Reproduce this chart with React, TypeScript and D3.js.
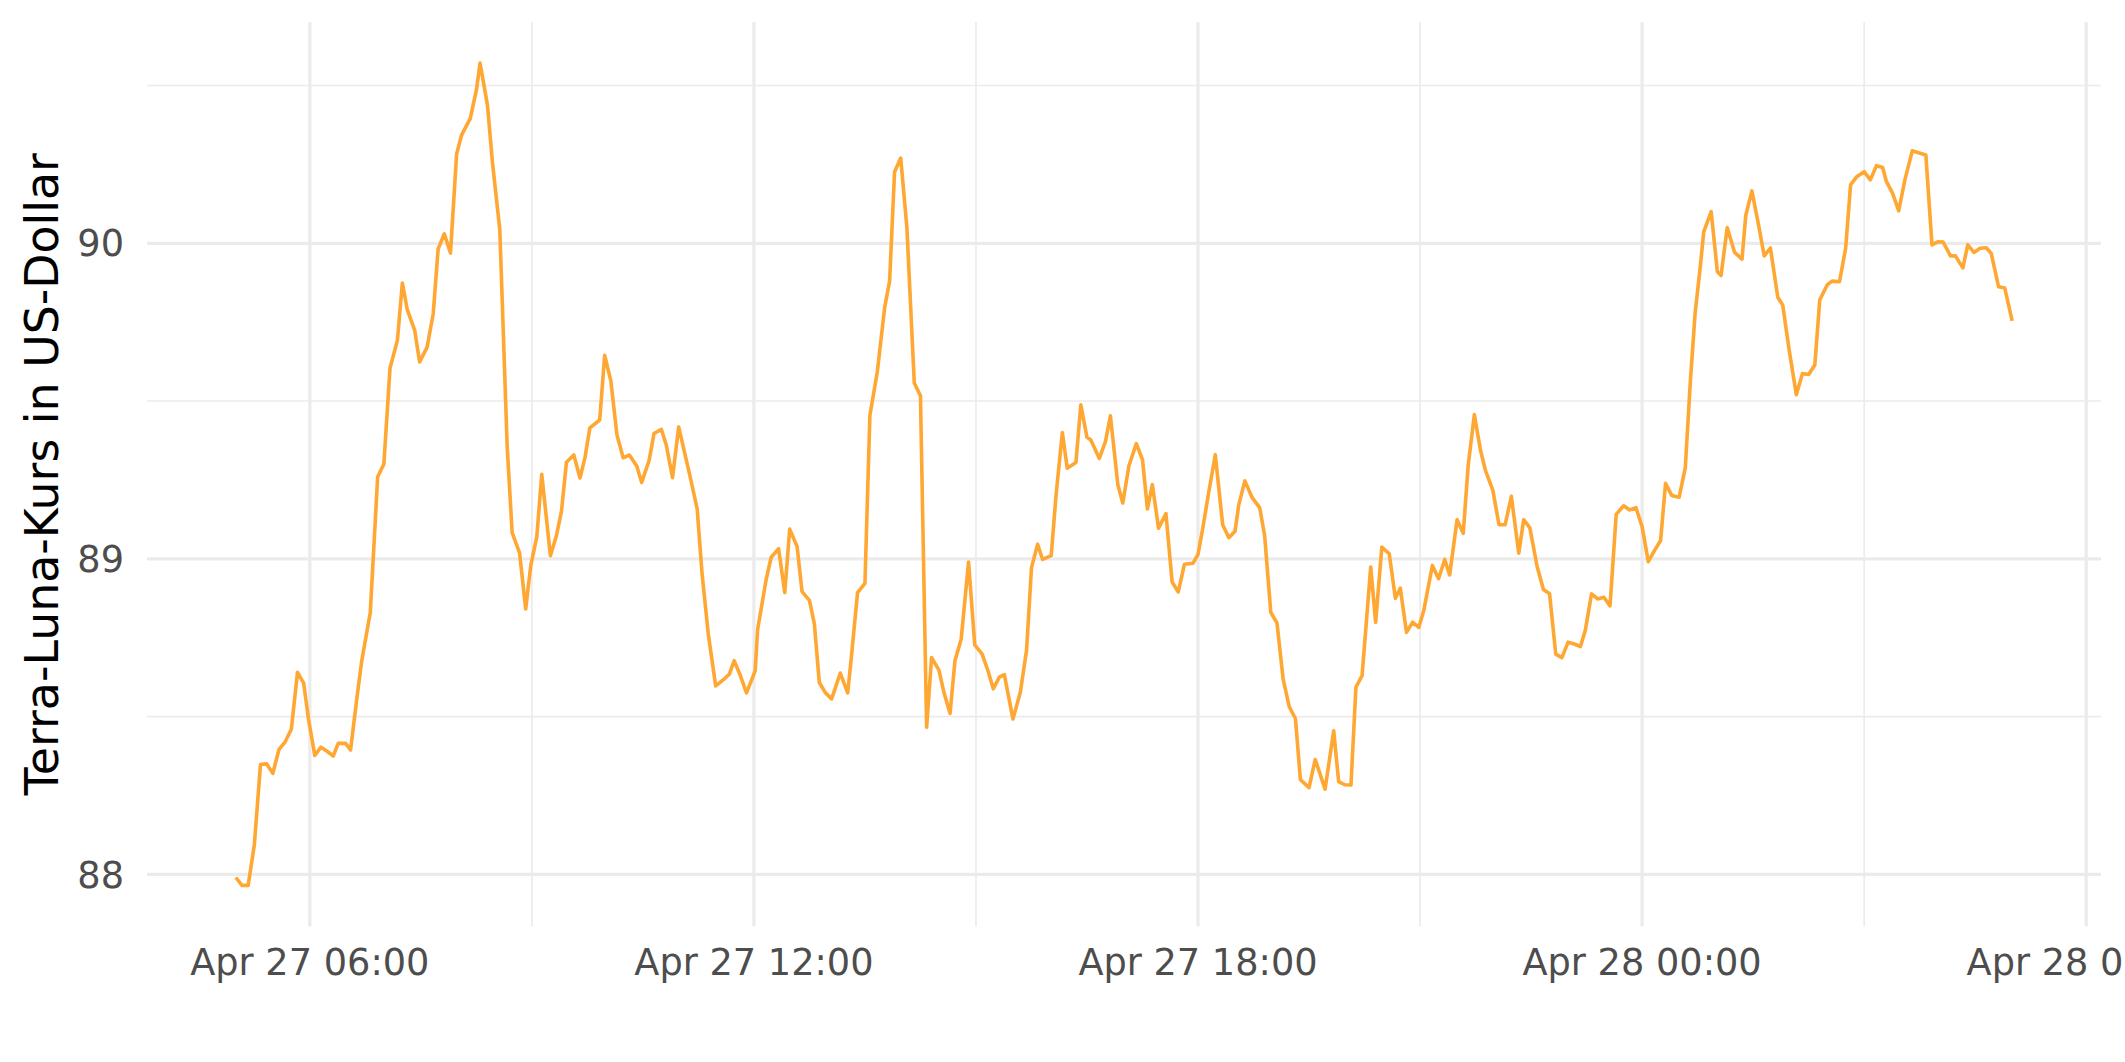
import * as d3 from 'd3';

// Terra-Luna (LUNA) price, Apr 27 2022 05:00 to Apr 28 05:00
// minutes after the start time
const startTime = new Date(2022, 3, 27, 5, 0);

const minutes = [
  0, 5, 10, 15, 20, 25, 30, 35, 40, 45, 50, 55, 59, 64, 69, 74, 79, 83, 89, 93,
  98, 102, 109, 115, 120, 125, 131, 135, 139, 145, 149, 155, 160, 164, 169, 174, 179, 183, 190, 195,
  198, 204, 208, 214, 220, 224, 230, 235, 239, 244, 248, 255, 260, 264, 268, 274, 279, 283, 287, 295,
  299, 304, 309, 314, 319, 325, 329, 335, 339, 345, 349, 354, 359, 368, 374, 378, 383, 389, 395, 400,
  404, 409, 414, 421, 423, 430, 434, 440, 445, 449, 455, 459, 465, 469, 473, 478, 483, 490, 496, 499,
  504, 510, 514, 520, 526, 530, 534, 539, 544, 550, 555, 560, 564, 570, 574, 579, 583, 588, 594, 599,
  605, 610, 614, 619, 623, 630, 636, 641, 645, 650, 654, 661, 665, 670, 674, 681, 685, 690, 693, 700,
  705, 709, 715, 719, 724, 730, 735, 739, 743, 748, 754, 759, 764, 769, 776, 780, 784, 788, 794, 800,
  805, 810, 813, 818, 824, 830, 834, 839, 844, 849, 854, 859, 863, 870, 875, 883, 890, 894, 899, 904,
  908, 913, 920, 924, 929, 935, 940, 944, 949, 954, 959, 963, 970, 975, 980, 984, 990, 995, 999, 1004,
  1009, 1013, 1019, 1024, 1029, 1034, 1040, 1044, 1049, 1055, 1060, 1065, 1070, 1075, 1080, 1085, 1090, 1094, 1099, 1104,
  1109, 1114, 1119, 1125, 1130, 1135, 1140, 1145, 1150, 1155, 1159, 1164, 1170, 1175, 1179, 1183, 1187, 1190, 1196, 1201,
  1204, 1209, 1215, 1221, 1224, 1229, 1234, 1239, 1244, 1250, 1254, 1259, 1265, 1270, 1275, 1280, 1284, 1290, 1294, 1300,
  1305, 1309, 1314, 1320, 1325, 1330, 1335, 1338, 1343, 1348, 1353, 1359, 1364, 1370, 1375, 1380, 1384, 1390, 1394, 1400,
  1404, 1409, 1414, 1419, 1423, 1429, 1434, 1440,
];

const prices = [
  87.99, 87.965, 87.965, 88.093, 88.348, 88.35, 88.32, 88.396, 88.42, 88.46, 88.64, 88.606, 88.49, 88.377, 88.403, 88.39, 88.375, 88.415, 88.415, 88.394,
  88.554, 88.675, 88.83, 89.26, 89.3, 89.604, 89.693, 89.874, 89.79, 89.724, 89.624, 89.67, 89.776, 89.982, 90.03, 89.969, 90.283, 90.343, 90.395, 90.485,
  90.571, 90.438, 90.258, 90.043, 89.354, 89.083, 89.019, 88.841, 88.976, 89.07, 89.268, 89.01, 89.075, 89.151, 89.306, 89.329, 89.256, 89.32, 89.415, 89.44,
  89.645, 89.564, 89.392, 89.32, 89.329, 89.294, 89.242, 89.311, 89.397, 89.41, 89.36, 89.257, 89.418, 89.265, 89.158, 88.951, 88.762, 88.597, 88.616, 88.634,
  88.677, 88.63, 88.575, 88.645, 88.776, 88.936, 89.005, 89.032, 88.893, 89.094, 89.039, 88.896, 88.868, 88.794, 88.608, 88.575, 88.556, 88.638, 88.575, 88.689,
  88.893, 88.922, 89.454, 89.592, 89.797, 89.88, 90.226, 90.27, 90.05, 89.557, 89.517, 88.466, 88.687, 88.647, 88.577, 88.51, 88.678, 88.745, 88.99, 88.727,
  88.698, 88.642, 88.588, 88.625, 88.633, 88.492, 88.578, 88.71, 88.972, 89.046, 88.998, 89.01, 89.205, 89.4, 89.287, 89.305, 89.488, 89.385, 89.377, 89.318,
  89.372, 89.453, 89.235, 89.177, 89.295, 89.365, 89.314, 89.158, 89.235, 89.097, 89.143, 88.927, 88.895, 88.983, 88.986, 89.014, 89.1, 89.195, 89.33, 89.108,
  89.067, 89.087, 89.17, 89.247, 89.193, 89.162, 89.074, 88.83, 88.797, 88.619, 88.531, 88.493, 88.3, 88.275, 88.364, 88.27, 88.455, 88.294, 88.284, 88.283,
  88.593, 88.63, 88.974, 88.799, 89.037, 89.016, 88.875, 88.907, 88.767, 88.799, 88.783, 88.836, 88.979, 88.937, 88.998, 88.949, 89.124, 89.081, 89.296, 89.457,
  89.344, 89.28, 89.217, 89.108, 89.108, 89.198, 89.018, 89.124, 89.098, 88.974, 88.903, 88.889, 88.698, 88.687, 88.736, 88.73, 88.722, 88.774, 88.889, 88.873,
  88.878, 88.851, 89.141, 89.168, 89.155, 89.162, 89.102, 88.991, 89.026, 89.058, 89.239, 89.201, 89.195, 89.288, 89.556, 89.78, 89.92, 90.037, 90.1, 89.91,
  89.898, 90.05, 89.971, 89.95, 90.088, 90.166, 90.066, 89.96, 89.985, 89.829, 89.804, 89.667, 89.52, 89.587, 89.584, 89.614, 89.82, 89.868, 89.88, 89.878,
  89.984, 90.185, 90.211, 90.227, 90.201, 90.246, 90.24, 90.196, 90.159, 90.103, 90.201, 90.293, 90.287, 90.28, 89.995, 90.005, 90.004, 89.96, 89.96, 89.922,
  89.995, 89.971, 89.984, 89.986, 89.968, 89.862, 89.858, 89.754,
];

const parseTime = d3.timeParse('%Y-%m-%d %H:%M');
const xMajorTicks = ['2022-04-27 06:00', '2022-04-27 12:00', '2022-04-27 18:00', '2022-04-28 00:00', '2022-04-28 06:00'];
const xMinorTicks = ['2022-04-27 09:00', '2022-04-27 15:00', '2022-04-27 21:00', '2022-04-28 03:00'];
const yMajorTicks = [88, 89, 90];
const yMinorTicks = [88.5, 89.5, 90.5];

const yTitle = 'Terra-Luna-Kurs in US-Dollar';

const width = 2125;
const height = 1062;
const panel = { left: 147, right: 2101, top: 22, bottom: 926.5 };

const gridColor = '#EBEBEB';
const lineColor = '#FFA733';
const font = '"DejaVu Sans", sans-serif';

const App = () => {
  const points = minutes.map((m, i) => ({
    time: new Date(startTime.getTime() + m * 60000),
    price: prices[i],
  }));

  // ggplot-like 5% expansion on both axes
  const [t0, t1] = d3.extent(points, d => d.time.getTime()) as [number, number];
  const tPad = (t1 - t0) * 0.05;
  const xScale = d3.scaleTime()
    .domain([new Date(t0 - tPad), new Date(t1 + tPad)])
    .range([panel.left, panel.right]);

  const [p0, p1] = d3.extent(points, d => d.price) as [number, number];
  const pPad = (p1 - p0) * 0.05;
  const yScale = d3.scaleLinear()
    .domain([p0 - pPad, p1 + pPad])
    .range([panel.bottom, panel.top]);

  const line = d3.line<{ time: Date; price: number }>()
    .x(d => xScale(d.time))
    .y(d => yScale(d.price));

  const fmt = d3.timeFormat('%b %d %H:%M');

  return (
    <svg
      width={width}
      height={height}
      viewBox={`0 0 ${width} ${height}`}
      style={{ position: 'absolute', left: 0, top: 0, background: '#fff' }}
      fontFamily={font}
    >
      <rect width={width} height={height} fill="#fff" />

      {/* minor grid */}
      {yMinorTicks.map(v => (
        <line key={`ym${v}`} x1={panel.left} x2={panel.right} y1={yScale(v)} y2={yScale(v)}
          stroke={gridColor} strokeWidth={1.6} />
      ))}
      {xMinorTicks.map(s => {
        const x = xScale(parseTime(s)!);
        return (
          <line key={`xm${s}`} x1={x} x2={x} y1={panel.top} y2={panel.bottom}
            stroke={gridColor} strokeWidth={1.6} />
        );
      })}

      {/* major grid */}
      {yMajorTicks.map(v => (
        <line key={`yM${v}`} x1={panel.left} x2={panel.right} y1={yScale(v)} y2={yScale(v)}
          stroke={gridColor} strokeWidth={3.2} />
      ))}
      {xMajorTicks.map(s => {
        const x = xScale(parseTime(s)!);
        return (
          <line key={`xM${s}`} x1={x} x2={x} y1={panel.top} y2={panel.bottom}
            stroke={gridColor} strokeWidth={3.2} />
        );
      })}

      <path d={line(points) ?? ''} fill="none" stroke={lineColor} strokeWidth={3.6}
        strokeLinejoin="round" />

      {/* axis labels */}
      {yMajorTicks.map(v => (
        <text key={`yl${v}`} x={124} y={yScale(v)} dy="0.36em" textAnchor="end"
          fontSize={36.7} fill="#4D4D4D">{v}</text>
      ))}
      {xMajorTicks.map(s => {
        const d = parseTime(s)!;
        return (
          <text key={`xl${s}`} x={xScale(d)} y={975} textAnchor="middle"
            fontSize={36.7} fill="#4D4D4D">{fmt(d)}</text>
        );
      })}

      <text transform={`translate(58, ${(panel.top + panel.bottom) / 2}) rotate(-90)`}
        textAnchor="middle" fontSize={45.8} fill="#000">{yTitle}</text>
    </svg>
  );
};

export default App;
